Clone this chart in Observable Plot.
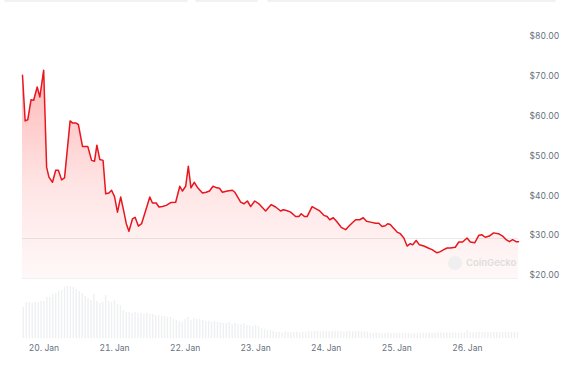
<!DOCTYPE html>
<html>
<head>
<meta charset="utf-8">
<script src="https://cdn.jsdelivr.net/npm/d3@7"></script>
<script src="https://cdn.jsdelivr.net/npm/@observablehq/plot@0.6"></script>
<style>
  html, body { margin: 0; padding: 0; background: #ffffff; }
  #chart { position: relative; width: 566px; height: 366px; overflow: hidden; font-family: Inter, "Liberation Sans", sans-serif; }
  .pane { position: absolute; left: 0; }
  .tab { position: absolute; top: 0; height: 2px; background: #f1f2f4; border-radius: 0 0 6px 6px; }
  .wm-logo { position: absolute; left: 448px; top: 256px; width: 14px; height: 14px; border-radius: 50%; background: #efefef; }
  .wm-text { position: absolute; left: 466px; top: 256px; font-size: 9.5px; font-weight: 600; color: #dedede; line-height: 14px; }
</style>
</head>
<body>
<div id="chart">
  <div class="tab" style="left:4px;width:184px"></div>
  <div class="tab" style="left:195px;width:63px"></div>
  <div class="tab" style="left:267px;width:289px"></div>
</div>
<script>
// ---- data ----
const baseDateUTC = Date.UTC(2025, 0, 20); // 20 Jan, 00:00
// hours after 20 Jan 00:00 for each price reading
const priceHours = [
  -7.3, -6.4, -5.5, -4.4, -3.5, -2.3, -1.4, -0.1, 0.9, 1.7,
  2.9, 4.0, 4.9, 6.0, 7.0, 8.9, 9.7, 10.8, 11.7, 13.1,
  14.2, 14.9, 16.2, 17.2, 18.0, 19.0, 20.1, 21.0, 22.1, 23.0,
  24.0, 25.0, 26.1, 27.1, 28.0, 28.9, 30.1, 31.0, 32.1, 33.2,
  34.6, 36.0, 36.9, 38.2, 39.1, 40.3, 41.6, 43.1, 44.8, 46.2,
  47.1, 48.2, 49.1, 50.0, 51.1, 52.3, 53.9, 55.2, 56.3, 57.5,
  58.8, 59.7, 60.7, 62.4, 64.1, 64.9, 66.9, 68.0, 69.2, 70.3,
  71.7, 73.1, 75.4, 77.3, 78.8, 80.5, 81.4, 82.5, 83.9, 85.6,
  86.7, 87.5, 88.6, 89.5, 91.2, 92.4, 93.8, 95.2, 96.3, 97.2,
  98.4, 99.5, 101.1, 102.6, 104.0, 106.0, 107.4, 108.6, 109.7, 111.1,
  112.8, 113.9, 115.0, 116.1, 116.9, 117.8, 118.6, 120.1, 121.2, 122.4,
  123.5, 124.6, 125.4, 126.6, 127.7, 129.2, 130.7, 132.0, 133.7, 134.8,
  136.0, 137.1, 138.2, 139.9, 141.1, 142.4, 143.9, 145.0, 146.5, 147.9,
  149.0, 150.1, 151.5, 152.9, 154.6, 156.0, 157.2, 158.3, 159.4, 160.6,
  161.4
];
// price in USD at each reading
const priceUSD = [
  70.25, 58.8, 59.1, 64.1, 64.0, 67.3, 64.8, 71.5, 47.2, 44.7,
  43.4, 46.4, 46.4, 44.0, 44.5, 58.8, 58.3, 58.3, 57.9, 52.4,
  52.4, 52.4, 48.9, 48.7, 52.7, 49.1, 48.9, 40.5, 40.7, 41.4,
  39.8, 35.9, 39.7, 36.3, 33.0, 31.1, 34.2, 34.6, 32.4, 33.0,
  36.3, 39.7, 38.2, 38.2, 37.2, 37.3, 37.6, 38.3, 38.4, 42.4,
  41.2, 42.4, 47.4, 42.0, 43.4, 42.0, 40.7, 40.9, 41.2, 42.4,
  42.0, 41.9, 40.9, 41.2, 41.4, 40.9, 38.4, 38.0, 38.7, 37.3,
  38.7, 38.0, 36.2, 37.8, 37.2, 36.2, 36.5, 36.3, 35.9, 34.8,
  34.8, 35.5, 34.8, 34.8, 37.3, 36.8, 36.2, 35.1, 34.8, 34.0,
  34.5, 33.6, 32.1, 31.5, 32.6, 34.0, 34.0, 34.5, 33.6, 33.4,
  33.1, 33.1, 32.3, 32.5, 33.0, 32.8, 32.1, 30.9, 30.5, 29.4,
  27.4, 28.0, 27.7, 28.8, 27.7, 27.4, 26.9, 26.5, 25.7, 26.0,
  26.5, 26.9, 26.9, 27.1, 28.4, 28.4, 29.4, 28.4, 28.2, 30.1,
  30.2, 29.6, 29.9, 30.7, 30.5, 29.9, 29.0, 28.5, 29.0, 28.5,
  28.5
];
// hourly trading volume (USD millions), first bar at this hour
const volumeStartHour = -7;
const volumeUSDm = [
  775, 900, 900, 875, 900, 900, 925, 925, 1025, 1025,
  1100, 1125, 1175, 1200, 1275, 1300, 1300, 1275, 1225, 1175,
  1125, 1050, 1000, 950, 1100, 925, 875, 900, 1075, 925,
  900, 950, 850, 825, 700, 650, 650, 625, 650, 625,
  625, 600, 625, 600, 600, 575, 575, 550, 550, 525,
  525, 475, 450, 425, 400, 475, 525, 450, 500, 475,
  475, 450, 425, 425, 400, 425, 400, 400, 375, 375,
  400, 350, 375, 350, 350, 375, 325, 325, 300, 325,
  300, 250, 225, 200, 200, 175,
  150, 150, 140, 160, 150, 145, 150, 155, 140, 150, 150,
  175, 170, 180, 175, 165, 175, 180, 170, 175, 175, 180, 170, 165, 175, 180, 175, 170, 175, 170, 165, 160,
  125, 120, 130, 125, 115, 125, 130, 120, 125, 125, 120, 130, 125, 120, 115, 125, 120, 125, 130, 120, 125, 125,
  140, 135, 145, 140, 135, 140, 145, 140, 135, 140, 140,
  200,
  150, 145, 150, 155, 145, 150, 150, 145, 155, 150, 145, 150, 155, 150, 145, 150, 140
];
const priceTicks = [20, 30, 40, 50, 60, 70, 80];
const dayTickDays = [20, 21, 22, 23, 24, 25, 26];
const dayTickLabels = ["20. Jan", "21. Jan", "22. Jan", "23. Jan", "24. Jan", "25. Jan", "26. Jan"];
const referencePrice = 29.3;
const priceDomain = [19.25, 84];
const volumeDomain = [0, 1450];
const watermark = "CoinGecko";

// ---- build tables ----
const HOUR = 3600 * 1000;
const prices = priceHours.map((h, i) => ({ date: new Date(baseDateUTC + h * HOUR), price: priceUSD[i] }));
const volumes = volumeUSDm.map((v, i) => ({ date: new Date(baseDateUTC + (volumeStartHour + i) * HOUR), vol: v }));
const dayTicks = dayTickDays.map(d => new Date(Date.UTC(2025, 0, d)));
const labelByTime = new Map(dayTicks.map((d, i) => [+d, dayTickLabels[i]]));
const xDomain = [prices[0].date, prices[prices.length - 1].date];

const RED = "#e8161e";
const font = "Inter, 'Liberation Sans', sans-serif";

const gradientDefs = () => {
  const defs = d3.create("svg:defs");
  const g = defs.append("linearGradient").attr("id", "priceFill")
    .attr("x1", 0).attr("x2", 0).attr("y1", 0).attr("y2", 1);
  g.append("stop").attr("offset", 0).attr("stop-color", "#ff1f1f").attr("stop-opacity", 0.32);
  g.append("stop").attr("offset", 0.55).attr("stop-color", "#ff1f1f").attr("stop-opacity", 0.12);
  g.append("stop").attr("offset", 1).attr("stop-color", "#ff1f1f").attr("stop-opacity", 0.03);
  return defs.node();
};

const pricePlot = Plot.plot({
  width: 566, height: 290,
  marginLeft: 22, marginRight: 48, marginTop: 20, marginBottom: 12,
  style: { background: "transparent", fontFamily: font, overflow: "visible" },
  x: { type: "time", domain: xDomain, axis: null },
  y: { domain: priceDomain },
  marks: [
    gradientDefs,
    Plot.ruleY([priceDomain[0]], { stroke: "#f0f0f0", strokeWidth: 1 }),
    Plot.ruleY([referencePrice], { stroke: "#ebebeb", strokeWidth: 1 }),
    Plot.areaY(prices, { x: "date", y1: priceDomain[0], y2: "price", fill: "url(#priceFill)" }),
    Plot.lineY(prices, { x: "date", y: "price", stroke: RED, strokeWidth: 1.5, strokeLinejoin: "round" }),
    Plot.axisY({
      anchor: "right", ticks: priceTicks, tickFormat: d => "$" + d.toFixed(2),
      tickSize: 0, tickPadding: 11, fill: "#68707e", fontSize: 8.5, label: null
    })
  ]
});

const volumePlot = Plot.plot({
  width: 566, height: 86,
  marginLeft: 22, marginRight: 48, marginTop: 0, marginBottom: 28,
  style: { background: "transparent", fontFamily: font, overflow: "visible" },
  x: { type: "time", domain: xDomain },
  y: { domain: volumeDomain, axis: null },
  marks: [
    Plot.ruleX(volumes, { x: "date", y1: 0, y2: "vol", stroke: "#eef0f2", strokeWidth: 1.4 }),
    Plot.axisX({
      ticks: dayTicks, tickFormat: d => labelByTime.get(+d),
      tickSize: 0, tickPadding: 6, fill: "#68707e", fontSize: 8.5, label: null
    })
  ]
});

const chart = document.getElementById("chart");
pricePlot.classList.add("pane");
pricePlot.style.top = "0px";
volumePlot.classList.add("pane");
volumePlot.style.top = "280px";
chart.appendChild(volumePlot);
chart.appendChild(pricePlot);

const logo = document.createElement("div");
logo.className = "wm-logo";
chart.appendChild(logo);
const wm = document.createElement("div");
wm.className = "wm-text";
wm.textContent = watermark;
chart.appendChild(wm);
</script>
</body>
</html>
